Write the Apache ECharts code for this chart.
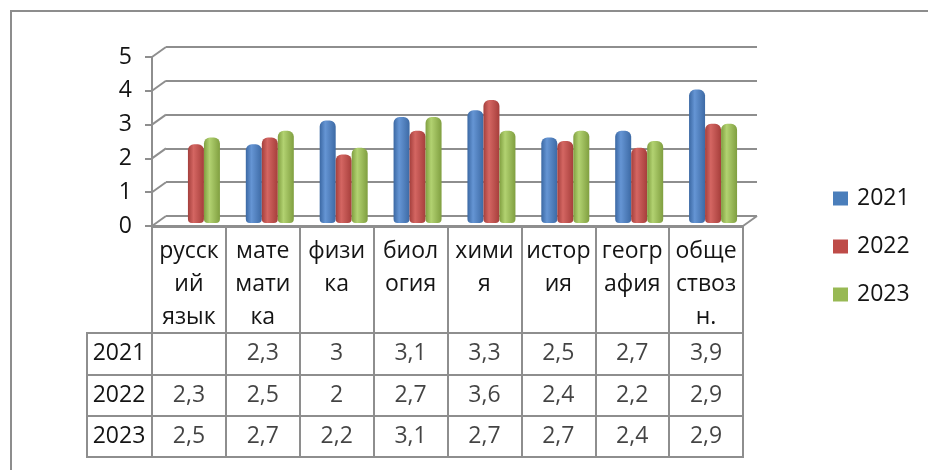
<!DOCTYPE html>
<html>
<head>
<meta charset="utf-8">
<script src="https://cdn.jsdelivr.net/npm/echarts@6/dist/echarts.min.js"></script>
<style>
  html, body { margin: 0; padding: 0; background: #fff; overflow: hidden; }
  #frame { position: absolute; left: 10px; top: 10px; width: 1000px; height: 600px; border: 2px solid #8d8d8d; }
  #chart { position: absolute; left: 0; top: 0; width: 928px; height: 470px; }
</style>
</head>
<body>
<div id="frame"></div>
<div id="chart"></div>
<script>
// данные
const subjects = ['русск\nий\nязык', 'мате\nмати\nка', 'физи\nка', 'биол\nогия', 'хими\nя', 'истор\nия', 'геогр\nафия', 'обще\nствоз\nн.'];
const years = ['2021', '2022', '2023'];
const score2021 = [null, 2.3, 3, 3.1, 3.3, 2.5, 2.7, 3.9];
const score2022 = [2.3, 2.5, 2, 2.7, 3.6, 2.4, 2.2, 2.9];
const score2023 = [2.5, 2.7, 2.2, 3.1, 2.7, 2.7, 2.4, 2.9];
const yTicks = [0, 1, 2, 3, 4, 5];

const scores = [score2021, score2022, score2023];
const flat = ['#4a7ebb', '#be4b48', '#98b954'];
const shades = [
  ['#3b68a3', '#6595d4', '#3d6aa5'],
  ['#a43f3c', '#d46662', '#a63e3b'],
  ['#809f40', '#b2d271', '#809f40']
];
const gray = '#8e8e8e';
const txt = '#141414';
const font = 'Open Sans';
const fs = 23;
const DX = 14, DY = -10; // глубина

const cyl = (c) => ({
  type: 'linear', x: 0, y: 0, x2: 1, y2: 0,
  colorStops: [{ offset: 0, color: c[0] }, { offset: 0.35, color: c[1] }, { offset: 1, color: c[2] }]
});

// ячейки таблицы
const cells = [];
scores.forEach((row, r) => row.forEach((v, c) => { if (v !== null) cells.push([c, r, v]); }));

const chart = echarts.init(document.getElementById('chart'));

const option = {
  animation: false,
  grid: [
    { left: 166, right: 171, top: 47, bottom: 254 },                 // 0 задняя стенка
    { left: 152, right: 185, top: 57, bottom: 244 },                 // 1 передняя ось
    { left: 159, right: 178, top: 52, bottom: 247 },                 // 2 столбики
    { left: 152, right: 185, top: 227, bottom: 137, show: true, borderColor: gray, borderWidth: 2 }, // 3 шапка
    { left: 152, right: 185, top: 333, bottom: 13, show: true, borderColor: gray, borderWidth: 2 },  // 4 значения
    { left: 87, right: 776, top: 333, bottom: 13, show: true, borderColor: gray, borderWidth: 2 }    // 5 годы
  ],
  xAxis: [
    { gridIndex: 0, type: 'category', data: subjects, show: false },
    { gridIndex: 1, type: 'category', data: subjects, axisLine: { show: false }, axisTick: { show: false }, axisLabel: { show: false } },
    { gridIndex: 2, type: 'category', data: subjects, show: false },
    {
      gridIndex: 3, type: 'category', data: subjects, position: 'top',
      axisLine: { show: false }, axisTick: { show: false },
      splitLine: { show: true, interval: 0, lineStyle: { color: gray, width: 2 } },
      axisLabel: { inside: true, interval: 0, margin: 8, verticalAlign: 'top', lineHeight: 33, fontSize: fs, fontFamily: font, color: txt }
    },
    {
      gridIndex: 4, type: 'category', data: subjects,
      axisLine: { show: false }, axisTick: { show: false }, axisLabel: { show: false },
      splitLine: { show: true, interval: 0, lineStyle: { color: gray, width: 2 } }
    },
    { gridIndex: 5, type: 'category', data: [''], show: false }
  ],
  yAxis: [
    {
      gridIndex: 0, type: 'value', min: 0, max: 5, interval: 1,
      axisLine: { show: false }, axisTick: { show: false }, axisLabel: { show: false },
      splitLine: { lineStyle: { color: gray, width: 2 } }
    },
    {
      gridIndex: 1, type: 'value', min: 0, max: 5, interval: 1,
      axisLine: { show: true, lineStyle: { color: gray, width: 2 } },
      axisTick: { show: true, length: 7, lineStyle: { color: gray, width: 2 } },
      axisLabel: { margin: 20, fontSize: fs, fontFamily: font, color: txt, padding: [3, 0, 0, 0] },
      splitLine: { show: false }
    },
    { gridIndex: 2, type: 'value', min: 0, max: 5, show: false },
    { gridIndex: 3, type: 'value', show: false },
    {
      gridIndex: 4, type: 'category', data: years, inverse: true,
      axisLine: { show: false }, axisTick: { show: false },
      axisLabel: { margin: 33, align: 'center', fontSize: fs, fontFamily: font, color: txt },
      splitLine: { show: true, interval: 0, lineStyle: { color: gray, width: 2 } }
    },
    {
      gridIndex: 5, type: 'category', data: years, inverse: true,
      axisLine: { show: false }, axisTick: { show: false }, axisLabel: { show: false },
      splitLine: { show: true, interval: 0, lineStyle: { color: gray, width: 2 } }
    }
  ],
  legend: {
    orient: 'vertical', left: 833, top: 187, padding: 0,
    itemWidth: 15, itemHeight: 14, itemGap: 25, icon: 'rect',
    textStyle: { fontSize: fs, lineHeight: 22, fontFamily: font, color: txt, padding: [0, 0, 0, 4] },
    data: years.map((y, i) => ({ name: y, itemStyle: { color: flat[i] } }))
  },
  series: [
    // диагонали пола и левой стенки
    {
      type: 'custom', xAxisIndex: 1, yAxisIndex: 1, silent: true, z: 1,
      data: yTicks.map(v => [0, v]),
      renderItem: (params, api) => {
        const cs = params.coordSys;
        const y = api.coord([0, api.value(1)])[1];
        const style = { stroke: gray, lineWidth: 2 };
        const children = [{ type: 'line', shape: { x1: cs.x, y1: y, x2: cs.x + DX, y2: y + DY }, style }];
        if (api.value(1) === 0) {
          children.push({ type: 'line', shape: { x1: cs.x, y1: y, x2: cs.x + cs.width, y2: y }, style });
          children.push({ type: 'line', shape: { x1: cs.x + cs.width, y1: y, x2: cs.x + cs.width + DX, y2: y + DY }, style });
        }
        return { type: 'group', children };
      }
    },
    ...years.map((y, i) => ({
      name: y, type: 'bar', xAxisIndex: 2, yAxisIndex: 2, z: 3,
      data: scores[i], barWidth: 16, barGap: '0%',
      itemStyle: { color: cyl(shades[i]), borderRadius: [6, 6, 4, 4] }
    })),
    {
      type: 'scatter', xAxisIndex: 4, yAxisIndex: 4, silent: true,
      data: cells, symbolSize: 1, itemStyle: { color: 'rgba(0,0,0,0)' },
      label: {
        show: true, position: 'inside', fontSize: fs, fontFamily: font, color: txt,
        formatter: p => String(p.value[2]).replace('.', ',')
      }
    }
  ]
};

chart.setOption(option);
</script>
</body>
</html>
